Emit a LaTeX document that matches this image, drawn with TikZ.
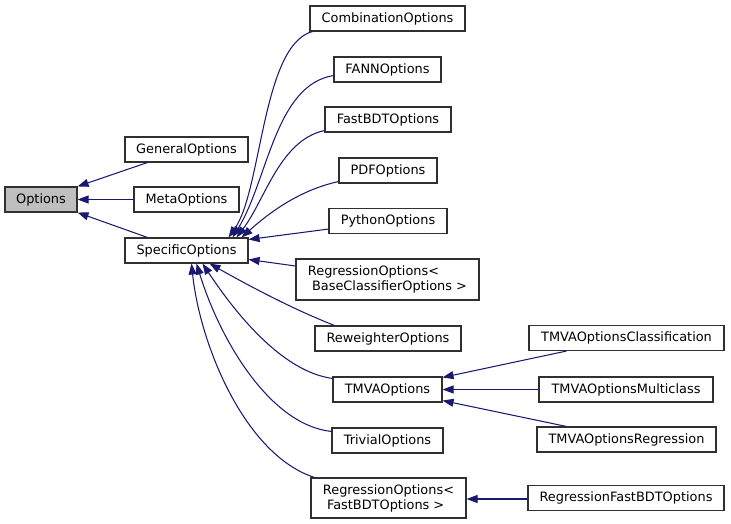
\documentclass[tikz,border=0pt]{standalone}
\usepackage{fontspec}
\setmainfont{DejaVu Sans}
\usetikzlibrary{arrows.meta}
\definecolor{navy}{HTML}{191970}
\definecolor{boxline}{HTML}{303030}
\definecolor{basefill}{HTML}{BFBFBF}
\tikzset{
  box/.style={draw=boxline, line width=1.1bp, fill=white, inner sep=0pt, minimum height=25bp,
    font=\fontsize{12.9bp}{15bp}\selectfont, text=black},
  basebox/.style={box, fill=basefill},
  twobox/.style={box, align=left, minimum height=41bp},
  edge/.style={draw=navy, line width=1.05bp, {Triangle[length=11bp,width=8bp]}-}
}
\begin{document}
\begin{tikzpicture}[x=1bp,y=-1bp]
\useasboundingbox (0,0) rectangle (731,524);
% nodes
\node[basebox, minimum width=72bp] (Options) at (41,199.5) {Options};
\node[box, minimum width=123bp] (General) at (186.5,149.5) {GeneralOptions};
\node[box, minimum width=105bp] (Meta) at (186.5,199.5) {MetaOptions};
\node[box, minimum width=123bp] (Specific) at (186.5,250.5) {SpecificOptions};
\node[box, minimum width=155bp] (Comb) at (387.5,18.5) {CombinationOptions};
\node[box, minimum width=107bp] (FANN) at (387.5,69.5) {FANNOptions};
\node[box, minimum width=126bp] (FastBDT) at (388,119.5) {FastBDTOptions};
\node[box, minimum width=98bp] (PDF) at (388,170.5) {PDFOptions};
\node[box, minimum width=118bp] (Python) at (388,221) {PythonOptions};
\node[twobox, minimum width=183bp] (RegBase) at (387.5,279.5) {RegressionOptions<\\\ BaseClassifierOptions >};
\node[box, minimum width=146bp] (Reweighter) at (388,338.5) {ReweighterOptions};
\node[box, minimum width=109bp] (TMVA) at (387.5,389.5) {TMVAOptions};
\node[box, minimum width=111bp] (Trivial) at (387.5,440.5) {TrivialOptions};
\node[twobox, minimum width=155bp, minimum height=40bp] (RegFast) at (388.5,498) {RegressionOptions<\\\ FastBDTOptions >};
\node[box, minimum width=195bp] (TMVAClass) at (626.5,338) {TMVAOptionsClassification};
\node[box, minimum width=174bp] (TMVAMulti) at (626,389.5) {TMVAOptionsMulticlass};
\node[box, minimum width=179bp] (TMVARegr) at (626.5,439.5) {TMVAOptionsRegression};
\node[box, minimum width=196bp] (RegFastBDT) at (626,498) {RegressionFastBDTOptions};
% edges to Options
\draw[edge] (Options.north east) -- ([xshift=23bp]General.south west);
\draw[edge] (Options.east) -- (Meta.west);
\draw[edge] (Options.south east) -- ([xshift=23bp]Specific.north west);
% edges to SpecificOptions (top)
\draw[edge] ([xshift=-20bp]Specific.north east) .. controls (262,190) and (262,45) .. ([xshift=3bp]Comb.south west);
\draw[edge] ([xshift=-16bp]Specific.north east) .. controls (268,180) and (275,85) .. ([yshift=7bp]FANN.south west);
\draw[edge] ([xshift=-12bp]Specific.north east) .. controls (265,200) and (280,140) .. ([yshift=2bp]FastBDT.south west);
\draw[edge] ([xshift=-7bp]Specific.north east) .. controls (270,212) and (300,190) .. ([yshift=2bp]PDF.south west);
\draw[edge] ([yshift=11bp]Specific.east) -- ([yshift=5bp]Python.south west);
\draw[edge] ([yshift=-9bp]Specific.east) -- ([yshift=13.5bp]RegBase.west);
% edges to SpecificOptions (bottom)
\draw[edge] ([xshift=23bp]Specific.south) .. controls (260,292) and (300,312) .. ([xshift=20bp]Reweighter.north west);
\draw[edge] ([xshift=16bp]Specific.south) .. controls (240,320) and (285,372) .. ([yshift=-2bp]TMVA.north west);
\draw[edge] ([xshift=10bp]Specific.south) .. controls (220,340) and (270,425) .. ([yshift=-4bp]Trivial.north west);
\draw[edge] ([xshift=5bp]Specific.south) .. controls (200,345) and (245,455) .. ([xshift=4bp]RegFast.north west);
% edges to TMVAOptions
\draw[edge] ([yshift=-1bp]TMVA.north east) -- ([xshift=38bp]TMVAClass.south west);
\draw[edge] (TMVA.east) -- (TMVAMulti.west);
\draw[edge] ([yshift=2bp]TMVA.south east) -- ([xshift=30bp]TMVARegr.north west);
% edge to RegressionOptions<FastBDTOptions>
\draw[edge] ([yshift=-1bp]RegFast.east) -- ([yshift=-1bp]RegFastBDT.west);
\end{tikzpicture}
\end{document}
